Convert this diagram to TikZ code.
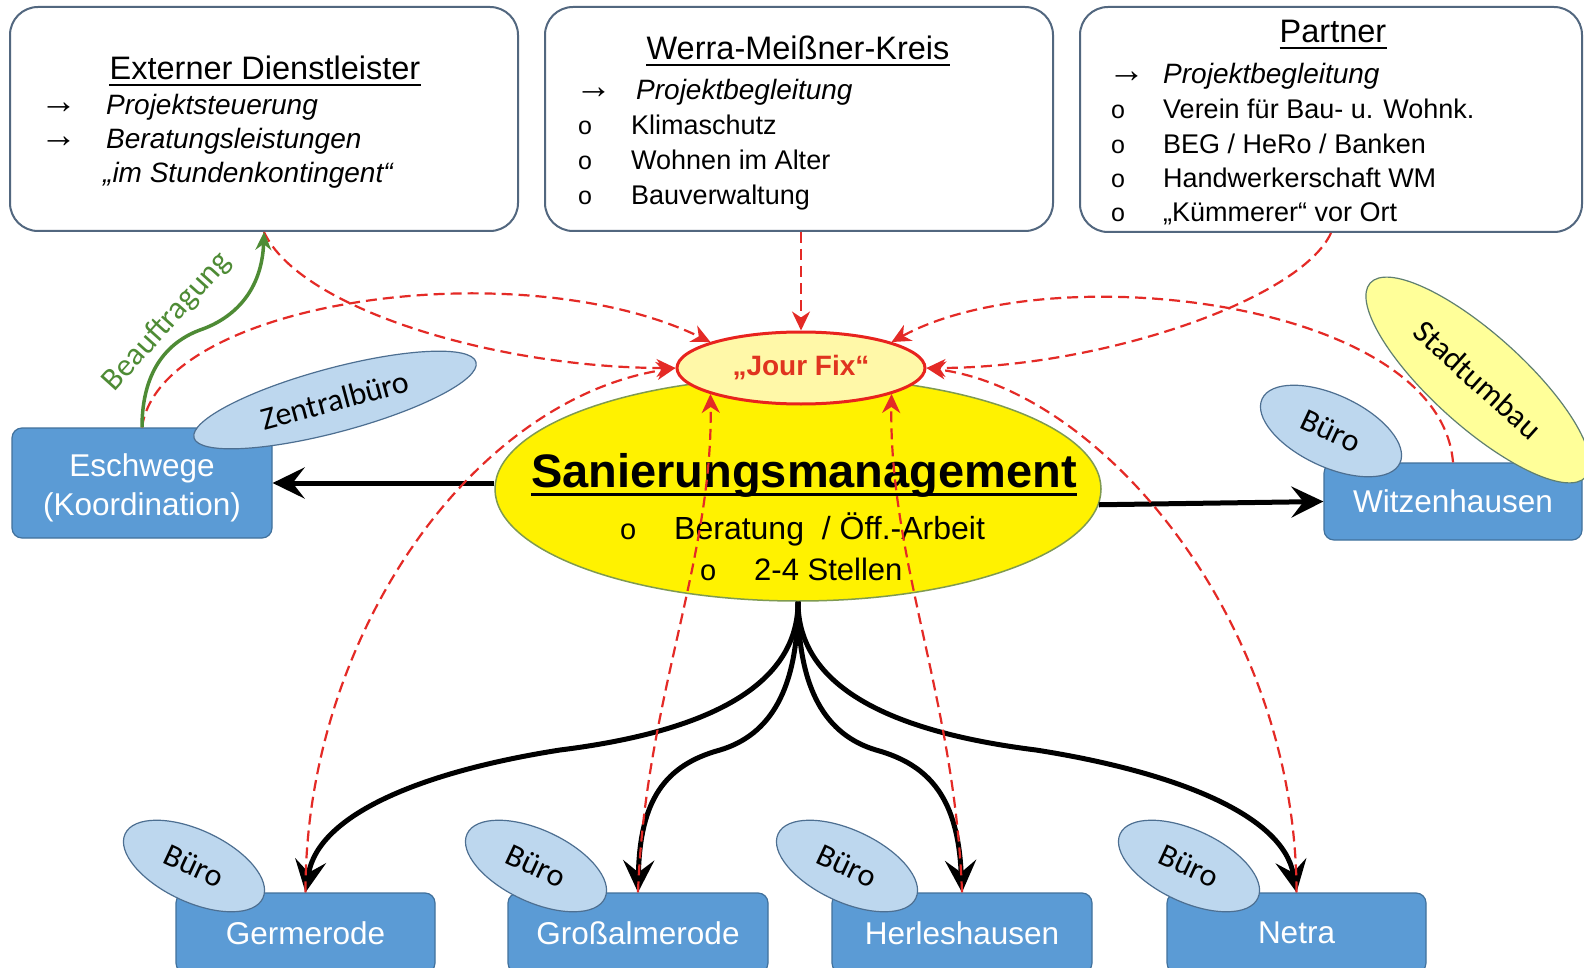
\documentclass[tikz,border=0pt]{standalone}
\usepackage{fontspec}
\setmainfont{Liberation Sans}
\newfontfamily\calibfont{Carlito}
\usetikzlibrary{shapes.geometric,arrows.meta}
\definecolor{boxblue}{HTML}{5B9BD5}
\definecolor{boxedge}{HTML}{41719C}
\definecolor{buerofill}{HTML}{BDD7EE}
\definecolor{bueroedge}{HTML}{4D6F91}
\definecolor{topedge}{HTML}{52677F}
\definecolor{smedge}{HTML}{7F9A50}
\definecolor{jfred}{HTML}{E8231E}
\definecolor{jftext}{HTML}{E0341F}
\definecolor{jffill}{HTML}{FFF8A8}
\definecolor{stfill}{HTML}{FFFF99}
\definecolor{stedge}{HTML}{5F7F70}
\definecolor{grn}{HTML}{4E8B35}
\definecolor{dashred}{HTML}{E42A26}
\newcommand{\myfs}[1]{\fontsize{#1}{#1}\selectfont}
\begin{document}
\begin{tikzpicture}[x=1pt,y=-1pt,
  topbox/.style={draw=topedge, line width=2pt, rounded corners=28pt, fill=white, inner sep=0pt},
  titletext/.style={anchor=base, inner sep=0pt, font=\myfs{32.5}},
  itemtext/.style={anchor=base west, inner sep=0pt, font=\myfs{27}},
  itemit/.style={anchor=base west, inner sep=0pt, font=\myfs{28}\itshape},
  bul/.style={anchor=base west, inner sep=0pt, font=\myfs{25}},
  arr/.style={anchor=base west, inner sep=0pt, font=\myfs{37}},
  town/.style={draw=boxedge, line width=1.2pt, fill=boxblue, rounded corners=10pt, inner sep=0pt, text=white, align=center, font=\fontsize{31.5}{39}\selectfont},
  towntext/.style={inner sep=0pt, text=white, align=center, font=\fontsize{31.5}{39}\selectfont},
  buero/.style={ellipse, draw=bueroedge, line width=1.2pt, fill=buerofill, inner sep=0pt, font=\calibfont\myfs{32}},
  blackarr/.style={line width=5pt, -{Stealth[length=32pt,width=31pt,inset=12pt]}},
  reddash/.style={draw=dashred, line width=2.2pt, dash pattern=on 11pt off 6pt, -{Stealth[length=19pt,width=18pt,inset=6pt]}},
  ulined/.style={line width=2pt}
  ]
\fill[white] (0,0) rectangle (1584,968);
\useasboundingbox (0,0) rectangle (1584,968);

% top boxes
\node[topbox, minimum width=508pt, minimum height=224pt] (box1) at (264,119) {};
\node[topbox, minimum width=508pt, minimum height=224pt] (box2) at (799,119) {};
\node[topbox, minimum width=502pt, minimum height=225pt] (box3) at (1331,119.5) {};

\node[titletext] (t1) at (265,80) {Externer Dienstleister};
\draw[ulined] ([yshift=-5pt]t1.base west) -- ([yshift=-5pt]t1.base east);
\node[arr] (a11) at (40,114) {→};
\node[itemit] (i11) at (106,115) {Projektsteuerung};
\node[arr] (a12) at (40,148) {→};
\node[itemit] (i12) at (106,149) {Beratungsleistungen};
\node[itemit] (i13) at (103,183) {„im Stundenkontingent“};

\node[titletext] (t2) at (798,60) {Werra-Meißner-Kreis};
\draw[ulined] ([yshift=-5pt]t2.base west) -- ([yshift=-5pt]t2.base east);
\node[arr] (a21) at (575,99) {→};
\node[itemit] (i21) at (636,100) {Projektbegleitung};
\node[bul] (b22) at (578,135) {o};
\node[itemtext] (i22) at (631,135) {Klimaschutz};
\node[bul] (b23) at (578,170) {o};
\node[itemtext] (i23) at (631,170) {Wohnen im Alter};
\node[bul] (b24) at (578,205) {o};
\node[itemtext] (i24) at (631,205) {Bauverwaltung};

\node[titletext] (t3) at (1333,43) {Partner};
\draw[ulined] ([yshift=-5pt]t3.base west) -- ([yshift=-5pt]t3.base east);
\node[arr] (a31) at (1108,83) {→};
\node[itemit] (i31) at (1163,84) {Projektbegleitung};
\node[bul] (b32) at (1111,119) {o};
\node[itemtext] (i32) at (1163,119) {Verein für Bau- u. Wohnk.};
\node[bul] (b33) at (1111,154) {o};
\node[itemtext] (i33) at (1163,154) {BEG / HeRo / Banken};
\node[bul] (b34) at (1111,188) {o};
\node[itemtext] (i34) at (1163,188) {Handwerkerschaft WM};
\node[bul] (b35) at (1111,222) {o};
\node[itemtext] (i35) at (1163,222) {„Kümmerer“ vor Ort};

% central ellipses
\node[ellipse, draw=smedge, line width=1.5pt, fill=yellow, minimum width=606pt, minimum height=224pt, inner sep=0pt] (sm) at (798,489) {};
\node[anchor=base, inner sep=0pt, font=\bfseries\myfs{47}] (smt) at (804,487) {Sanierungsmanagement};
\draw[line width=3pt] ([yshift=-7pt]smt.base west) -- ([yshift=-7pt]smt.base east);
\node[anchor=base west, inner sep=0pt, font=\myfs{29}] (smb1) at (620,539) {o};
\node[anchor=base west, inner sep=0pt, font=\myfs{32}] (smi1) at (674,539) {Beratung \ / Öff.-Arbeit};
\node[anchor=base west, inner sep=0pt, font=\myfs{29}] (smb2) at (700,580) {o};
\node[anchor=base west, inner sep=0pt, font=\myfs{31}] (smi2) at (754,580) {2-4 Stellen};

\node[ellipse, draw=jfred, line width=3pt, fill=jffill, minimum width=248pt, minimum height=72pt, inner sep=0pt, text=jftext, font=\bfseries\myfs{28}] (jf) at (801,368) {„Jour Fix“};

% towns
\node[town, minimum width=260pt, minimum height=110pt] (esch) at (142,483) {};
\node[towntext] (eschtxt) at (142,488) {Eschwege\\(Koordination)};
\node[town, minimum width=258pt, minimum height=77pt] (witz) at (1453,501.5) {Witzenhausen};
\node[town, minimum width=259pt, minimum height=80pt] (germ) at (305.5,933) {Germerode};
\node[town, minimum width=260pt, minimum height=80pt] (gross) at (638,933) {Großalmerode};
\node[town, minimum width=260pt, minimum height=80pt] (herl) at (962,933) {Herleshausen};
\node[town, minimum width=259pt, minimum height=80pt] (netra) at (1296.5,933) {Netra};

% offices
\node[buero, rotate=15, minimum width=292pt, minimum height=64pt] (zb) at (335,400) {Zentralbüro};
\node[buero, rotate=-25, minimum width=152pt, minimum height=72pt] (bw) at (1331,431) {Büro};
\node[ellipse, draw=stedge, line width=1.2pt, fill=stfill, rotate=-42, minimum width=290pt, minimum height=92pt, inner sep=0pt, font=\calibfont\myfs{32}] (stu) at (1478,380) {Stadtumbau};
\node[buero, rotate=-25, minimum width=152pt, minimum height=72pt] (bg) at (194,866) {Büro};
\node[buero, rotate=-25, minimum width=152pt, minimum height=72pt] (bgr) at (536,866) {Büro};
\node[buero, rotate=-25, minimum width=152pt, minimum height=72pt] (bh) at (847,866) {Büro};
\node[buero, rotate=-25, minimum width=152pt, minimum height=72pt] (bn) at (1189,866) {Büro};

% black arrows
\draw[blackarr] (sm.west |- esch.east) -- (esch.east);
\draw[blackarr] (sm.-3) -- (witz.west);
\draw[blackarr] (sm.south) .. controls (798,680) and (720,730) .. (560,750) .. controls (420,772) and (318,815) .. (germ.north);
\draw[blackarr] (sm.south) .. controls (798,690) and (770,735) .. (720,750) .. controls (665,765) and (640,800) .. (gross.north);
\draw[blackarr] (sm.south) .. controls (798,690) and (826,735) .. (876,750) .. controls (931,765) and (958,800) .. (herl.north);
\draw[blackarr] (sm.south) .. controls (798,680) and (876,730) .. (1036,750) .. controls (1176,772) and (1283,815) .. (netra.north);

% red dashed links to the Jour Fix
\draw[reddash] (box1.south) .. controls (300,310) and (500,368) .. (jf.west);
\draw[reddash] (esch.north) .. controls (160,300) and (520,250) .. (jf.164);
\draw[reddash] (jf.north |- box2.south) -- (jf.north);
\draw[reddash] (box3.south) .. controls (1300,300) and (1100,368) .. (jf.east);
\draw[reddash] (witz.north) .. controls (1440,300) and (1050,255) .. (jf.16);
\draw[reddash] (germ.north) .. controls (305,640) and (470,400) .. (jf.west);
\draw[reddash] (gross.north) .. controls (645,700) and (713,560) .. (jf.196);
\draw[reddash] (herl.north) .. controls (955,700) and (889,560) .. (jf.-16);
\draw[reddash] (netra.north) .. controls (1296,620) and (1100,390) .. (jf.east);

% green commissioning arrow
\draw[grn, line width=3.5pt, -{Stealth[length=18pt,width=16pt,inset=6pt]}] (esch.north) .. controls (142,380) and (160,345) .. (200,330) .. controls (235,318) and (262,290) .. (box1.south);
\node[rotate=48, inner sep=0pt, text=grn, font=\calibfont\myfs{32}] (beauf) at (167,322) {Beauftragung};
\end{tikzpicture}
\end{document}
